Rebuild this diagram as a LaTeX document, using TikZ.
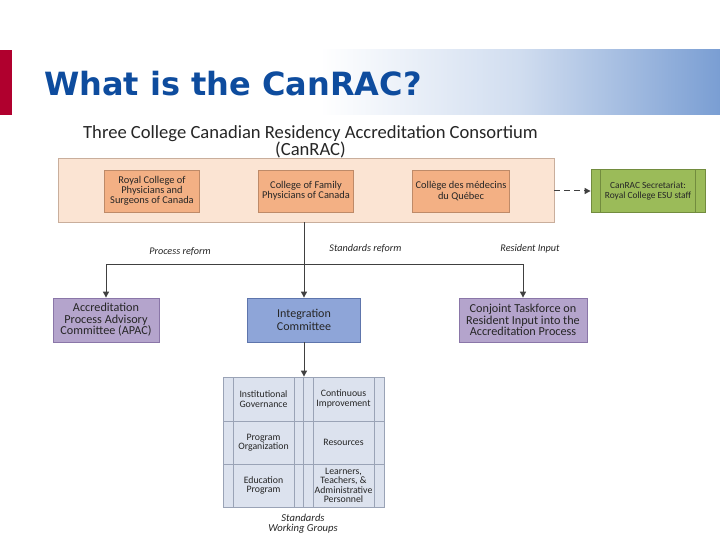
\documentclass[tikz,border=0pt]{standalone}
\usepackage{fontspec}
\setmainfont{Carlito}
\newfontfamily\titlefont{DejaVu Sans}
\usetikzlibrary{arrows.meta}
\definecolor{titleblue}{HTML}{0E4C9E}
\definecolor{bandblue}{HTML}{7A9ED3}
\definecolor{barred}{HTML}{B0002E}
\definecolor{peachfill}{HTML}{FBE4D3}
\definecolor{peachline}{HTML}{C9AE9C}
\definecolor{orangefill}{HTML}{F3B084}
\definecolor{orangeline}{HTML}{BE8A68}
\definecolor{greenfill}{HTML}{9BBB59}
\definecolor{greenline}{HTML}{728C3E}
\definecolor{purplefill}{HTML}{B4A4CC}
\definecolor{purpleline}{HTML}{8A76A8}
\definecolor{bluefill}{HTML}{8EA5D8}
\definecolor{blueline}{HTML}{5E75AC}
\definecolor{gridfill}{HTML}{DCE2EE}
\definecolor{gridline}{HTML}{9AA3B6}
\definecolor{conn}{HTML}{404040}
\definecolor{txt}{HTML}{262626}
\tikzset{
  box/.style={draw, line width=0.8pt, rectangle, align=center, inner sep=1pt, text=txt},
  orangebox/.style={box, fill=orangefill, draw=orangeline, minimum height=42pt, font=\fontsize{10.4}{10.2}\selectfont},
  purplebox/.style={box, fill=purplefill, draw=purpleline, minimum height=44pt, font=\fontsize{12.2}{11.4}\selectfont},
  cell/.style={align=center, text=txt, font=\fontsize{9.8}{9.4}\selectfont},
  lbl/.style={text=txt, font=\fontsize{10.2}{10}\selectfont\itshape},
  conline/.style={draw=conn, line width=1pt},
  arr/.style={conline, -{Triangle[length=6pt,width=6pt]}},
}
\begin{document}
\begin{tikzpicture}[x=1pt,y=-1pt]
\useasboundingbox (0,0) rectangle (720,540);
\fill[white] (0,0) rectangle (720,540);
% header band
\shade[shading=axis, left color=white, right color=bandblue!35] (320,50) rectangle (520,115);
\shade[shading=axis, left color=bandblue!35, right color=bandblue] (520,50) rectangle (720,115);
\fill[barred] (0,50) rectangle (12,115);
\node[anchor=base west, inner sep=0pt, text=titleblue, font=\titlefont\bfseries\fontsize{32}{36}\selectfont] (title) at (44,96) {What is the CanRAC?};

% heading
\node[align=center, text=txt, font=\fontsize{18.6}{17}\selectfont] (head) at (310.5,142) {Three College Canadian Residency Accreditation Consortium\\(CanRAC)};

% big box
\node[box, fill=peachfill, draw=peachline, minimum width=496pt, minimum height=64pt] (big) at (306,190) {};
\node[orangebox, minimum width=95pt] (royal) at (152,191) {Royal College of\\Physicians and\\Surgeons of Canada};
\node[orangebox, minimum width=95pt] (cfpc) at (306,191) {College of Family\\Physicians of Canada};
\node[orangebox, minimum width=97pt] (cmq) at (461,191) {Collège des médecins\\du Québec};

% secretariat
\node[box, fill=greenfill, draw=greenline, minimum width=114pt, minimum height=43pt, font=\fontsize{9.4}{10.5}\selectfont] (sec) at (648,191) {CanRAC Secretariat:\\Royal College ESU staff};
\draw[greenline, line width=0.8pt] ([xshift=10pt]sec.north west) -- ([xshift=10pt]sec.south west);
\draw[greenline, line width=0.8pt] ([xshift=-10pt]sec.north east) -- ([xshift=-10pt]sec.south east);
\draw[arr, dashed, dash pattern=on 6pt off 4pt] (big.east |- sec.west) -- (sec.west);

% committees
\node[purplebox, minimum width=106pt] (apac) at (106,320) {Accreditation\\Process Advisory\\Committee (APAC)};
\node[box, fill=bluefill, draw=blueline, minimum width=113pt, minimum height=44pt, font=\fontsize{12}{12.5}\selectfont] (integ) at (304,320) {Integration\\Committee};
\node[purplebox, minimum width=128pt] (conj) at (523,320) {Conjoint Taskforce on\\Resident Input into the\\Accreditation Process};

\coordinate (jn) at (304,264);
\draw[conline] (big.south -| jn) -- (jn);
\draw[arr] (jn) -| (apac.north);
\draw[arr] (jn) -| (conj.north);
\draw[arr] (jn) -- (integ.north);

\node[lbl] (l1) at (180,252) {Process reform};
\node[lbl] (l2) at (365.5,249) {Standards reform};
\node[lbl] (l3) at (530,249) {Resident Input};

% working groups grid
\node[box, fill=gridfill, draw=gridline, minimum width=161pt, minimum height=130pt] (grid) at (303.5,442) {};
\draw[arr] (integ.south) -- (integ.south |- grid.north);
\foreach \xx in {233,294,303,313,374} \draw[gridline, line width=0.8pt] (\xx,377) -- (\xx,507);
\foreach \yy in {421,464} \draw[gridline, line width=0.8pt] (223,\yy) -- (384,\yy);
\node[cell] (c1) at (263.5,399) {Institutional\\Governance};
\node[cell] (c2) at (343.5,399) {Continuous\\Improvement};
\node[cell] (c3) at (263.5,442.5) {Program\\Organization};
\node[cell] (c4) at (343.5,442.5) {Resources};
\node[cell] (c5) at (263.5,485.5) {Education\\Program};
\node[cell] (c6) at (343.5,485.5) {Learners,\\Teachers, \&\\Administrative\\Personnel};
\node[lbl, align=center, font=\fontsize{10.6}{9.8}\selectfont\itshape] (swg) at (303,523.5) {Standards\\Working Groups};
\end{tikzpicture}
\end{document}
